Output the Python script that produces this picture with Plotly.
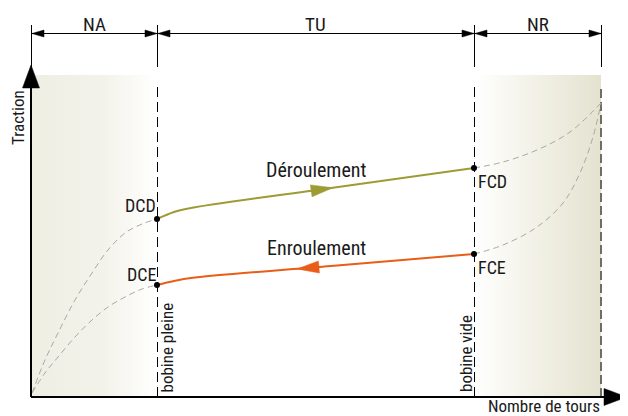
import math
import numpy as np
import plotly.graph_objects as go

# ---------------- data (abstract units: x = nombre de tours, y = traction) ----------------
zone_bounds = [0, 126, 443, 570]          # origine, bobine pleine, bobine vide, fin
zone_labels = ["NA", "TU", "NR"]
shade_top = 322
dim_y = 363

gray_dcd_x = [1, 14, 27, 44, 61, 77, 94, 111, 126]
gray_dcd_y = [4, 37, 64, 97, 124, 147, 164, 173, 178]
gray_dce_x = [1, 14, 27, 44, 61, 77, 94, 111, 126]
gray_dce_y = [4, 24, 40, 60, 77, 90, 100, 108, 112]
gray_fcd_x = [443, 472, 506, 539, 570]
gray_fcd_y = [229, 235, 247, 265, 294]
gray_fce_x = [443, 472, 506, 532, 549, 562, 570]
gray_fce_y = [143, 152, 170, 194, 224, 260, 294]

deroul_x = [126, 143, 160, 300, 443]
deroul_y = [178, 185, 189, 209, 229]
enroul_x = [126, 143, 160, 300, 443]
enroul_y = [112, 116, 119, 131, 143]

point_labels = ["DCD", "DCE", "FCD", "FCE"]
point_x = [126, 126, 443, 443]
point_y = [178, 112, 229, 143]

deroul_arrow_x = [281, 302]   # tail, tip (direction →)
enroul_arrow_x = [291, 266]   # tail, tip (direction ←)

# ---------------- styles ----------------
FONT = "Roboto Condensed, Liberation Sans Narrow, Arial Narrow, Roboto, sans-serif"
OLIVE = "#9e9b35"
ORANGE = "#e85d18"
GRAY = "#a8a8a8"
BEIGE_L = "#efeee3"
BEIGE_R = "#e4e2cf"
CRISP = 0.5   # half-pixel offset so 1px lines render sharp

fig = go.Figure()


def add_line(x, y, color="black", width=1, dash=None, shape="linear"):
    fig.add_trace(go.Scatter(x=x, y=y, mode="lines", hoverinfo="skip",
                             line=dict(color=color, width=width, dash=dash, shape=shape)))


def arrow_head(tip_x, tip_y, dx, dy, length, width, color):
    n = math.hypot(dx, dy)
    ux, uy = dx / n, dy / n
    px, py = -uy, ux
    bx, by = tip_x - ux * length, tip_y - uy * length
    xs = [tip_x, bx + px * width / 2, bx - px * width / 2, tip_x]
    ys = [tip_y, by + py * width / 2, by - py * width / 2, tip_y]
    fig.add_trace(go.Scatter(x=xs, y=ys, mode="lines", fill="toself", fillcolor=color,
                             line=dict(color=color, width=0.5), hoverinfo="skip"))


# shaded zones
for (x0, x1), cs in [((zone_bounds[0], zone_bounds[1]), [[0, BEIGE_L], [0.6, "#f4f3eb"], [1, "#ffffff"]]),
                     ((zone_bounds[2], zone_bounds[3]), [[0, "#ffffff"], [0.45, "#f3f2e8"], [1, BEIGE_R]])]:
    fig.add_trace(go.Scatter(x=[x0, x1, x1, x0, x0], y=[0, 0, shade_top, shade_top, 0],
                             mode="lines", fill="toself", line=dict(width=0),
                             fillgradient=dict(type="horizontal", colorscale=cs),
                             hoverinfo="skip"))

# vertical dashed lines
for xb in zone_bounds[1:3]:
    add_line([xb + CRISP, xb + CRISP], [0, 312], "black", 1, "10px,5px")
add_line([zone_bounds[3], zone_bounds[3]], [0, 312], "#6e6e66", 2, "9px,4px")

# extension lines (top)
for xb in zone_bounds:
    add_line([xb + CRISP, xb + CRISP], [330, 372], "black", 1)

# dimension line with arrows
add_line([zone_bounds[0], zone_bounds[3]], [dim_y + CRISP, dim_y + CRISP], "black", 1)
for a, b in zip(zone_bounds[:-1], zone_bounds[1:]):
    arrow_head(a + 1, dim_y + CRISP, -1, 0, 12, 7, "black")
    arrow_head(b, dim_y + CRISP, 1, 0, 12, 7, "black")

# gray dashed theoretical curves
for gx, gy in [(gray_dcd_x, gray_dcd_y), (gray_dce_x, gray_dce_y),
               (gray_fcd_x, gray_fcd_y), (gray_fce_x, gray_fce_y)]:
    add_line(gx, gy, GRAY, 1, "6px,4px", "spline")

# main curves
add_line(deroul_x, deroul_y, OLIVE, 2, None, "spline")
add_line(enroul_x, enroul_y, ORANGE, 2, None, "spline")

# arrows along curves
for ax, cx, cy, col in [(deroul_arrow_x, deroul_x, deroul_y, OLIVE),
                        (enroul_arrow_x, enroul_x, enroul_y, ORANGE)]:
    ty = float(np.interp(ax[1], cx, cy))
    sy = float(np.interp(ax[0], cx, cy))
    arrow_head(ax[1], ty, ax[1] - ax[0], ty - sy, 22, 12, col)

# axes
add_line([0, 0], [0, 312], "black", 2)
add_line([0, 574], [0, 0], "black", 2)
arrow_head(0, 332, 0, 1, 23, 17, "black")
arrow_head(596, 0, 1, 0, 23, 17, "black")

# points
fig.add_trace(go.Scatter(x=point_x, y=point_y, mode="markers", hoverinfo="skip",
                         marker=dict(color="black", size=6)))

ann = []
def txt(text, x, y, size=18, xanchor="center", yanchor="middle", angle=0):
    ann.append(dict(text=text, x=x, y=y, xref="x", yref="y", showarrow=False,
                    xanchor=xanchor, yanchor=yanchor, textangle=angle,
                    font=dict(family=FONT, size=size, color="#1a1a1a")))

for lab, a, b in zip(zone_labels, zone_bounds[:-1], zone_bounds[1:]):
    txt(lab, (a + b) / 2, 373, 19)
txt("Déroulement", 285, 227, 20)
txt("Enroulement", 285, 149, 20)
txt(point_labels[0], 127, 192, 18, "right")
txt(point_labels[1], 127, 123, 18, "right")
txt(point_labels[2], 445, 216, 18, "left")
txt(point_labels[3], 445, 130, 18, "left")
txt("Traction", -13.5, 279.5, 17, angle=-90)
txt("Nombre de tours", 571, -9, 17, "right")
txt("bobine pleine", 135, 49.5, 17, angle=-90)
txt("bobine vide", 435, 43, 17, angle=-90)

# page has an 8px body margin: figure is 620x408, origin of data at (23, 389) in figure pixels
fig.update_layout(
    width=620, height=408, margin=dict(l=0, r=0, t=0, b=0),
    paper_bgcolor="white", plot_bgcolor="white", showlegend=False,
    xaxis=dict(range=[-23, 597], visible=False, fixedrange=True),
    yaxis=dict(range=[-19, 389], visible=False, fixedrange=True),
    annotations=ann,
)

fig.write_html("out.html")
